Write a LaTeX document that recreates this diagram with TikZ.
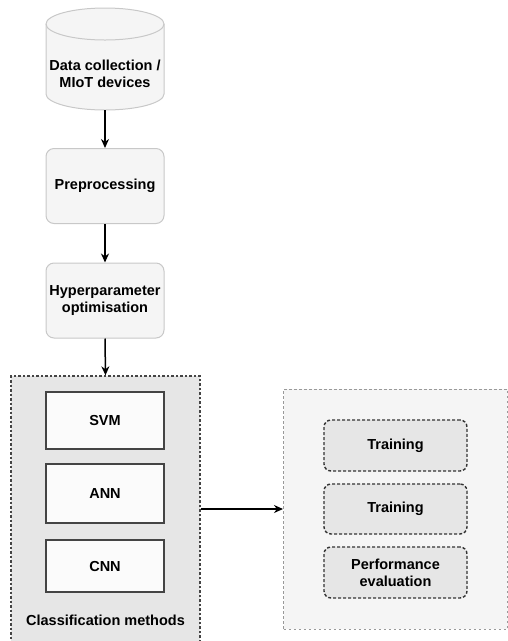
\documentclass[tikz,border=0pt]{standalone}
\usepackage{fontspec}
\setmainfont{Liberation Sans}
\usetikzlibrary{arrows.meta}
\definecolor{lightline}{HTML}{C8C8C8}
\definecolor{softfill}{HTML}{F5F5F5}
\definecolor{groupfill}{HTML}{E6E6E6}
\definecolor{darkline}{HTML}{444444}
\tikzset{
  every node/.style={font=\bfseries\fontsize{14.5}{17}\selectfont, align=center},
  stepbox/.style={draw=lightline, fill=softfill, rounded corners=8pt, line width=1pt,
    minimum width=118pt, minimum height=75pt, inner sep=0pt},
  methodbox/.style={draw=darkline, fill=white!60!softfill, line width=1.4pt,
    minimum width=118pt, inner sep=0pt},
  taskbox/.style={draw=black!80, fill=groupfill, dashed, dash pattern=on 3pt off 2pt,
    rounded corners=7pt, line width=1.4pt, minimum width=143pt, inner sep=0pt},
  flow/.style={-{Stealth[length=9pt,width=8pt]}, line width=1.5pt, black},
}
\begin{document}
\begin{tikzpicture}[x=1pt,y=-1pt]
\useasboundingbox (0,0) rectangle (508,641);
% cylinder
\fill[softfill] (46,24) -- (46,94) arc (180:0:59 and 16) -- (164,24) arc (0:-180:59 and 16) -- cycle;
\draw[lightline, line width=1pt] (46,24) -- (46,94) arc (180:0:59 and 16) -- (164,24) arc (0:-180:59 and 16) -- cycle;
\draw[lightline, line width=1pt] (46,24) arc (180:0:59 and 16);
\node[minimum width=118pt, minimum height=102pt, inner sep=0pt] (data) at (105,59) {};
\node at (105,74) {Data collection /\\MIoT devices};
\coordinate (databot) at (105,110);

\node[stepbox] (pre) at (105,186) {Preprocessing};
\node[stepbox] (hyp) at (105,300.5) {Hyperparameter\\optimisation};

% left group
\node[draw=darkline, fill=groupfill, dashed, dash pattern=on 2.5pt off 2pt, line width=1.4pt,
  minimum width=189pt, minimum height=266pt, inner sep=0pt] (cls) at (105.5,509) {};
\node[methodbox, minimum height=57pt] (svm) at (105,420.5) {SVM};
\node[methodbox, minimum height=59pt] (ann) at (105,493.5) {ANN};
\node[methodbox, minimum height=52pt] (cnn) at (105,566) {CNN};
\node (clslbl) at (105.5,620) {Classification methods};

% right group
\node[draw=black!40, fill=softfill, dashed, dash pattern=on 2.5pt off 2.5pt, line width=1pt,
  minimum width=224pt, minimum height=240pt, inner sep=0pt] (eval) at (395.5,509) {};
\node[taskbox, minimum height=51pt] (tr1) at (395.5,445.5) {Training};
\node[taskbox, minimum height=50pt] (tr2) at (395.5,509) {Training};
\node[taskbox, minimum height=51pt] (perf) at (395.5,572.5) {Performance\\evaluation};

\draw[flow] (databot) -- (pre.north);
\draw[flow] (pre.south) -- (hyp.north);
\draw[flow] (hyp.south) -- (cls.north);
\draw[flow] (cls.east) -- (eval.west);
\end{tikzpicture}
\end{document}
